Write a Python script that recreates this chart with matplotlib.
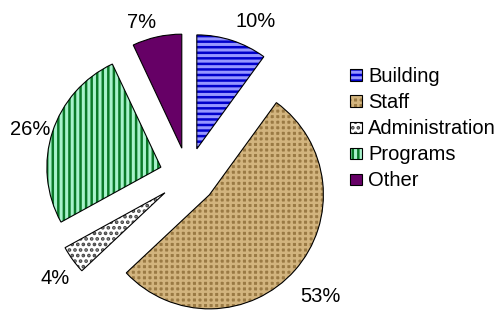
import matplotlib
matplotlib.use("Agg")
import numpy as np
import matplotlib.pyplot as plt
from matplotlib.legend_handler import HandlerTuple

plt.rcParams['font.family'] = ['Liberation Sans', 'DejaVu Sans']

labels = ["Building", "Staff", "Administration", "Programs", "Other"]
values = [10, 53, 4, 26, 7]

fills = ["#9696ff", "#9a7a44", "#ffffff", "#a8f2cc", "#660066"]
hatch_colors = ["#0000cc", "#d2b47e", "#444444", "#0a7a28", "#660066"]
hatches = ["---", "+++", "...", "|||", ""]

# where Excel put the percentage labels (distance from wedge tip, angle nudge)
label_r = [1.23, 1.32, 1.22, 1.19, 1.16]
label_shift = [-7, -1, 2, 2, 5]

fig = plt.figure(figsize=(5, 3.13), dpi=100)
# pie centre ~ (188,176) px, radius ~114 px
ax = fig.add_axes([0, 0, 330 / 500, 1])
R = 114.0
ax.axis('off')

explode = [0.25] * len(values)

# layer 1: fill + hatch (hatch takes the edge colour)
plt.rcParams['hatch.linewidth'] = 1.8
wedges, texts, autotexts = ax.pie(
    values, explode=explode, startangle=90, counterclock=False,
    autopct='%1.0f%%', pctdistance=1.2, radius=1,
    wedgeprops=dict(linewidth=0), frame=False)
for w, fc, hc, h in zip(wedges, fills, hatch_colors, hatches):
    w.set_facecolor(fc)
    w.set_edgecolor(hc)
    w.set_hatch(h)

for w, t, r, s in zip(wedges, autotexts, label_r, label_shift):
    a = np.deg2rad((w.theta1 + w.theta2) / 2 + s)
    cx, cy = w.center
    t.set_position((cx + r * np.cos(a), cy + r * np.sin(a)))
    t.set_fontsize(14.5)
    t.set_color('black')

# layer 2: black outlines
outlines, _ = ax.pie(
    values, explode=explode, startangle=90, counterclock=False,
    radius=1, wedgeprops=dict(fill=False, edgecolor='black', linewidth=0.8),
    frame=False)

ax.set_aspect('auto')
ax.set_xlim(-188 / R, (330 - 188) / R)
ax.set_ylim((176 - 313) / R, 176 / R)

handles = list(zip(wedges, outlines))
fig.legend(handles, labels, loc='upper left', bbox_to_anchor=(0.70, 0.785),
           frameon=False, fontsize=14.5, handlelength=0.6, handleheight=0.5,
           handletextpad=0.3, labelspacing=0.35, borderpad=0, borderaxespad=0,
           handler_map={tuple: HandlerTuple(ndivide=1, pad=0)})

fig.savefig("out.png", dpi=100)
